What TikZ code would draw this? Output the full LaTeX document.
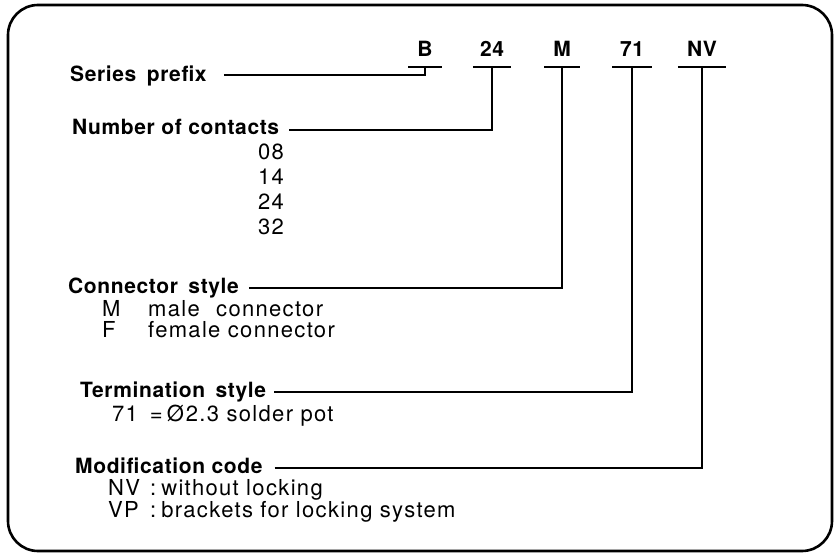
\documentclass[tikz,border=0pt]{standalone}
\usepackage{fontspec}
\setmainfont{TeX Gyre Heros}
\newfontfamily\headfont[LetterSpace=3]{TeX Gyre Heros}
\newfontfamily\itemfont[LetterSpace=6]{TeX Gyre Heros}

\begin{document}
\begin{tikzpicture}[
    x=1pt, y=-1pt,
    code/.style={font=\headfont\bfseries\fontsize{21}{25}\selectfont, anchor=base,
                 inner xsep=0pt, inner ysep=10pt, text depth=0pt},
    head/.style={font=\headfont\bfseries\fontsize{21}{25}\selectfont,
                 anchor=base west, inner sep=0pt},
    item/.style={font=\itemfont\fontsize{22}{26}\selectfont,
                 anchor=base west, inner sep=0pt},
    bar/.style={line width=2pt},
    lead/.style={line width=1.6pt}
]
\useasboundingbox (0,0) rectangle (839,556);
\draw[line width=2.6pt, rounded corners=30pt] (8,5) rectangle (832,551);

% type designation
\node[code, minimum width=33pt] (cB) at (425,57) {B};
\node[code, minimum width=38pt] (c24) at (492,57) {24};
\node[code, minimum width=35pt] (cM) at (562,57) {M};
\node[code, minimum width=39pt] (c71) at (632,57) {71};
\node[code, minimum width=48pt] (cNV) at (702,57) {NV};
\foreach \c in {cB,c24,cM,c71,cNV}
    \draw[bar] (\c.south west) -- (\c.south east);

% headings
\node[head] (lSer) at (70,82) {Series\hspace{4pt} prefix};
\node[head] (lNum) at (72,135) {Number of contacts};
\node[head] (lCon) at (68,294) {Connector\hspace{4pt} style};
\node[head] (lTer) at (80,397) {Termination\hspace{4pt} style};
\node[head] (lMod) at (75,473) {Modification code};

\draw[lead] ([xshift=17pt,yshift=7pt]lSer.base east) -| (cB.south);
\draw[lead] ([xshift=10pt,yshift=5pt]lNum.base east) -| (c24.south);
\draw[lead] ([xshift=10pt,yshift=6pt]lCon.base east) -| (cM.south);
\draw[lead] ([xshift=8pt,yshift=5pt]lTer.base east) -| (c71.south);
\draw[lead] ([xshift=12pt,yshift=5pt]lMod.base east) -| (cNV.south);

% options
\node[item] (n08) at (258,160) {08};
\node[item] (n14) at (258,185) {14};
\node[item] (n24) at (258,210) {24};
\node[item] (n32) at (258,235) {32};
\node[item] (sM) at (102,317) {\makebox[46pt][l]{M}\makebox[68pt][l]{male}connector};
\node[item] (sF) at (102,338) {\makebox[46pt][l]{F}female connector};
\node[item] (t71) at (112,421) {71\hspace{12pt}=\hspace{4pt}Ø\hspace{2pt}2.3 solder pot};
\node[item] (mNV) at (108,495) {\makebox[42pt][l]{NV}:\hspace{5pt}without locking};
\node[item] (mVP) at (108,517) {\makebox[42pt][l]{VP}:\hspace{5pt}brackets for locking system};
\end{tikzpicture}
\end{document}
